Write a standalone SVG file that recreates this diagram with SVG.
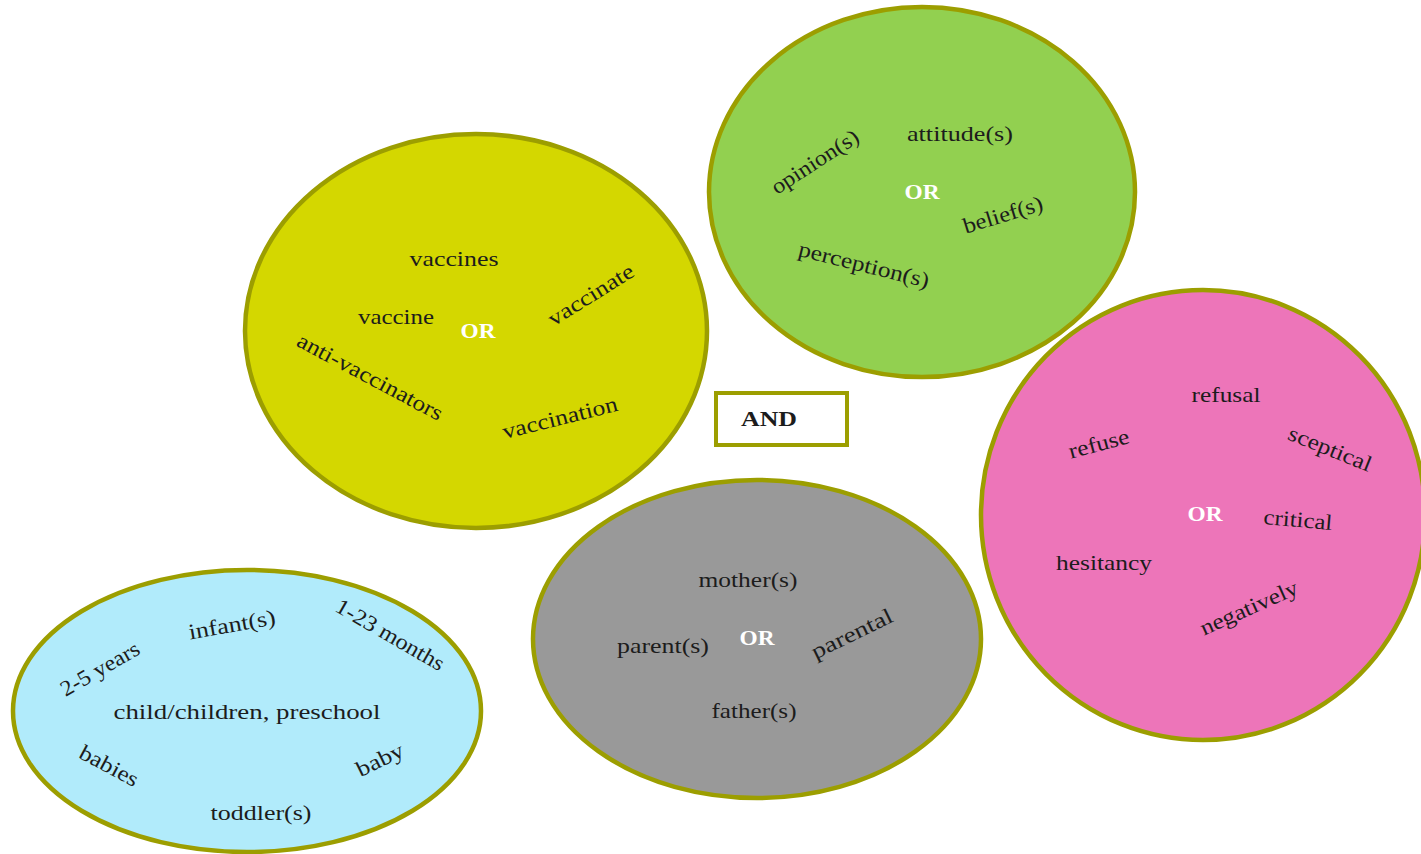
<svg xmlns="http://www.w3.org/2000/svg" width="1421" height="854" viewBox="0 0 1421 854">
<style>
.e{stroke:#9C9E00;stroke-width:4.5}
.t{font-family:"Liberation Serif","DejaVu Serif",serif;font-size:22px;fill:#1c1c1c;text-anchor:middle}
.or{font-family:"Liberation Serif","DejaVu Serif",serif;font-size:22px;font-weight:bold;fill:#ffffff;text-anchor:middle}
.and{font-family:"Liberation Serif","DejaVu Serif",serif;font-size:22px;font-weight:bold;fill:#1c1c1c;text-anchor:middle}
</style>
<rect width="1421" height="854" fill="#ffffff"/>
<g id="connectors"></g>
<g id="vaccine">
<ellipse class="e" cx="476" cy="331" rx="231" ry="197" fill="#D4D700"/>
<text class="t" x="454" y="266" textLength="89" lengthAdjust="spacingAndGlyphs">vaccines</text>
<text class="t" x="396" y="324" textLength="76" lengthAdjust="spacingAndGlyphs">vaccine</text>
<text class="or" x="478" y="338" textLength="35" lengthAdjust="spacingAndGlyphs">OR</text>
<text class="t" transform="translate(591,295) rotate(-32)" y="7" textLength="97" lengthAdjust="spacingAndGlyphs">vaccinate</text>
<text class="t" transform="translate(370,377) rotate(28)" y="7" textLength="162" lengthAdjust="spacingAndGlyphs">anti-vaccinators</text>
<text class="t" transform="translate(560,418) rotate(-14)" y="7" textLength="118" lengthAdjust="spacingAndGlyphs">vaccination</text>
</g>
<g id="attitude">
<ellipse class="e" cx="922" cy="192" rx="213" ry="185" fill="#92D050"/>
<text class="t" transform="translate(815,162) rotate(-33)" y="7" textLength="100" lengthAdjust="spacingAndGlyphs">opinion(s)</text>
<text class="t" x="960" y="141" textLength="106" lengthAdjust="spacingAndGlyphs">attitude(s)</text>
<text class="or" x="922" y="199" textLength="35" lengthAdjust="spacingAndGlyphs">OR</text>
<text class="t" transform="translate(1003,215) rotate(-17)" y="7" textLength="82" lengthAdjust="spacingAndGlyphs">belief(s)</text>
<text class="t" transform="translate(864,265) rotate(14)" y="7" textLength="134" lengthAdjust="spacingAndGlyphs">perception(s)</text>
</g>
<g id="hesitancy">
<ellipse class="e" cx="1203" cy="515" rx="222" ry="225" fill="#ED75B9"/>
<text class="t" x="1226" y="402" textLength="69" lengthAdjust="spacingAndGlyphs">refusal</text>
<text class="t" transform="translate(1099,444) rotate(-15)" y="7" textLength="62" lengthAdjust="spacingAndGlyphs">refuse</text>
<text class="t" transform="translate(1330,449) rotate(22)" y="7" textLength="88" lengthAdjust="spacingAndGlyphs">sceptical</text>
<text class="or" x="1205" y="521" textLength="35" lengthAdjust="spacingAndGlyphs">OR</text>
<text class="t" transform="translate(1298,520) rotate(5)" y="7" textLength="69" lengthAdjust="spacingAndGlyphs">critical</text>
<text class="t" x="1104" y="570" textLength="96" lengthAdjust="spacingAndGlyphs">hesitancy</text>
<text class="t" transform="translate(1249,608) rotate(-24)" y="7" textLength="105" lengthAdjust="spacingAndGlyphs">negatively</text>
</g>
<g id="children">
<ellipse class="e" cx="247" cy="711" rx="234" ry="141" fill="#B1EBFB"/>
<text class="t" transform="translate(100,669) rotate(-30)" y="7" textLength="88" lengthAdjust="spacingAndGlyphs">2-5 years</text>
<text class="t" transform="translate(232,625) rotate(-10)" y="7" textLength="88" lengthAdjust="spacingAndGlyphs">infant(s)</text>
<text class="t" transform="translate(390,635) rotate(30)" y="7" textLength="122" lengthAdjust="spacingAndGlyphs">1-23 months</text>
<text class="t" x="247" y="719" textLength="267" lengthAdjust="spacingAndGlyphs">child/children, preschool</text>
<text class="t" transform="translate(109,766) rotate(28)" y="7" textLength="64" lengthAdjust="spacingAndGlyphs">babies</text>
<text class="t" transform="translate(380,760) rotate(-26)" y="7" textLength="50" lengthAdjust="spacingAndGlyphs">baby</text>
<text class="t" x="261" y="820" textLength="101" lengthAdjust="spacingAndGlyphs">toddler(s)</text>
</g>
<g id="parents">
<ellipse class="e" cx="757" cy="639" rx="224" ry="159" fill="#999999"/>
<text class="t" x="748" y="587" textLength="99" lengthAdjust="spacingAndGlyphs">mother(s)</text>
<text class="t" x="663" y="653" textLength="92" lengthAdjust="spacingAndGlyphs">parent(s)</text>
<text class="or" x="757" y="645" textLength="35" lengthAdjust="spacingAndGlyphs">OR</text>
<text class="t" transform="translate(852,634) rotate(-26)" y="7" textLength="88" lengthAdjust="spacingAndGlyphs">parental</text>
<text class="t" x="754" y="718" textLength="85" lengthAdjust="spacingAndGlyphs">father(s)</text>
</g>
<g id="and">
<rect x="716" y="393" width="131" height="52" fill="#ffffff" stroke="#9C9E00" stroke-width="4"/>
<text class="and" x="769" y="426" textLength="56" lengthAdjust="spacingAndGlyphs">AND</text>
</g>
</svg>
